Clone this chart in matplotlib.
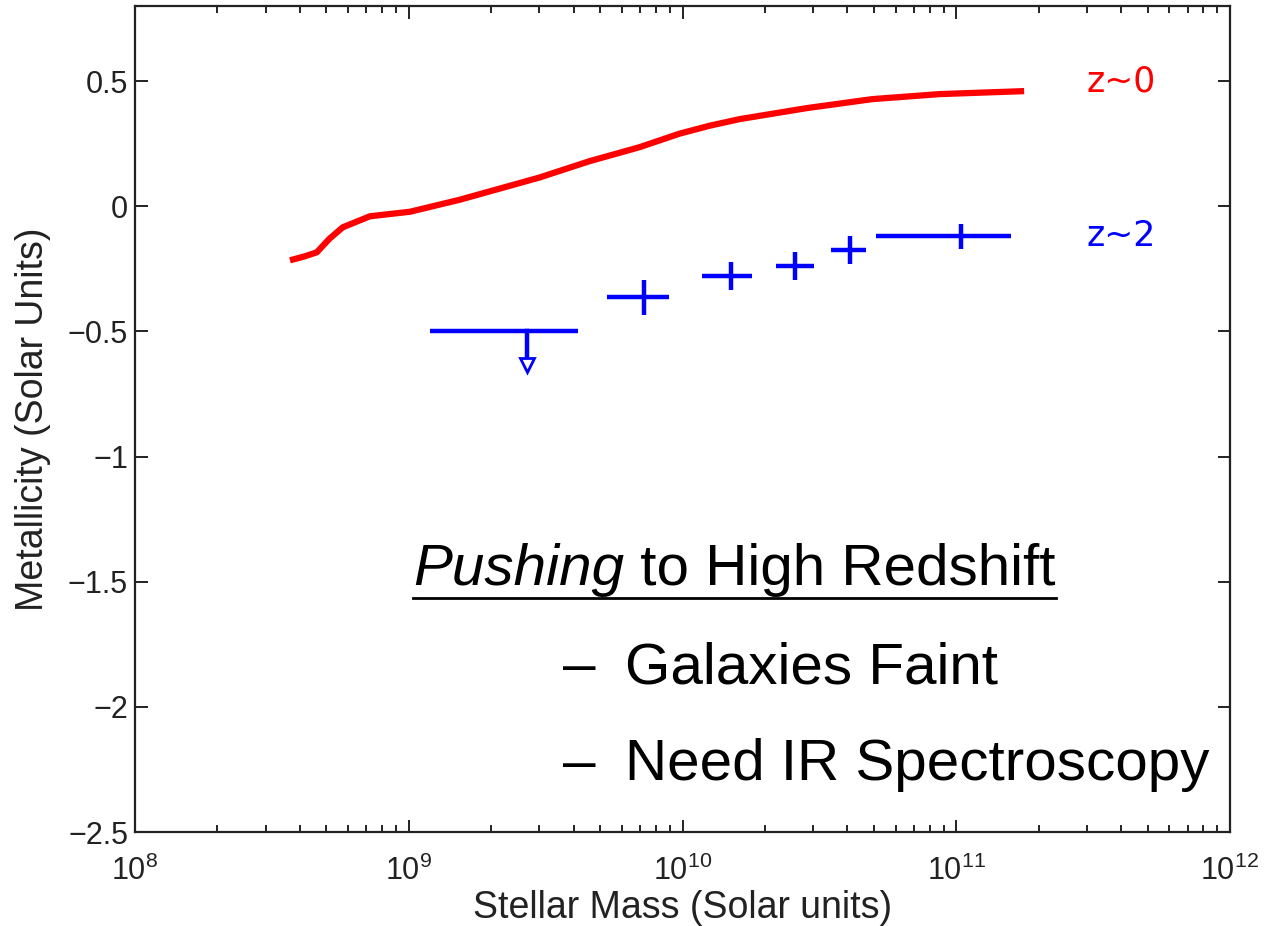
import matplotlib
matplotlib.use('Agg')
import matplotlib.pyplot as plt
import numpy as np
from matplotlib.lines import Line2D

plt.rcParams['font.family'] = ['Liberation Sans', 'DejaVu Sans']
plt.rcParams['axes.unicode_minus'] = True

# z~0 relation (log stellar mass, metallicity)
z0_logm = [8.566, 8.62, 8.664, 8.71, 8.759, 8.858, 9.004, 9.186, 9.478, 9.66,
           9.843, 9.989, 10.1, 10.208, 10.453, 10.693, 10.938, 11.248]
z0_met = [-0.216, -0.2, -0.184, -0.13, -0.084, -0.04, -0.022, 0.026, 0.115, 0.18,
          0.236, 0.29, 0.322, 0.348, 0.392, 0.428, 0.448, 0.46]

# z~2 binned points
z2_logm = [9.858, 10.179, 10.412, 10.613, 11.018]
z2_met = [-0.364, -0.28, -0.24, -0.176, -0.12]
z2_logm_lo = [9.726, 10.073, 10.343, 10.544, 10.708]
z2_logm_hi = [9.949, 10.255, 10.482, 10.672, 11.2]
z2_met_err = [0.07, 0.056, 0.056, 0.056, 0.05]

# upper limit bin
lim_logm = 9.431
lim_met = -0.5
lim_logm_lo = 9.077
lim_logm_hi = 9.617
lim_arrow_end = -0.645

yticks = [0.5, 0, -0.5, -1, -1.5, -2, -2.5]
ytick_labels = ['0.5', '0', '\u22120.5', '\u22121', '\u22121.5', '\u22122', '\u22122.5']

fig = plt.figure(figsize=(12.68, 9.26), dpi=100)
ax = fig.add_axes([0.1065, 0.1015, 0.8635, 0.892])

ax.plot(10**np.array(z0_logm), z0_met, color='red', lw=4.5,
        solid_capstyle='butt', solid_joinstyle='round')

m = 10**np.array(z2_logm)
xerr = [m - 10**np.array(z2_logm_lo), 10**np.array(z2_logm_hi) - m]
ax.errorbar(m, z2_met, xerr=xerr, yerr=z2_met_err, fmt='none',
            ecolor='blue', elinewidth=3.2, capsize=0)

lm = 10**lim_logm
ax.errorbar([lm], [lim_met], xerr=[[lm - 10**lim_logm_lo], [10**lim_logm_hi - lm]],
            fmt='none', ecolor='blue', elinewidth=3.2, capsize=0)
ax.plot([lm, lm], [lim_met, lim_arrow_end + 0.02], color='blue', lw=3.2)
ax.plot([lm], [lim_arrow_end + 0.01], marker='v', ms=10, mfc='white',
        mec='blue', mew=2, ls='none')

ax.text(3.0e11, 0.5, 'z~0', color='red', fontsize=25, va='center',
        family='DejaVu Sans')
ax.text(3.0e11, -0.12, 'z~2', color='blue', fontsize=25, va='center',
        family='DejaVu Sans')

ax.set_xscale('log')
ax.set_xlim(1e8, 1e12)
ax.set_ylim(-2.5, 0.8)
ax.set_yticks(yticks)
ax.set_yticklabels(ytick_labels)
ax.tick_params(which='both', direction='in', top=True, right=True,
               labelsize=22, width=1.4, colors='#222222', labelcolor='#222222')
ax.tick_params(which='major', length=9)
ax.tick_params(which='minor', length=5)
ax.tick_params(axis='x', which='major', pad=17)
ax.tick_params(axis='y', which='major', pad=5)
for s in ax.spines.values():
    s.set_linewidth(1.6)
    s.set_color('#222222')

ax.set_xlabel('Stellar Mass (Solar units)', fontsize=27, color='#222222', labelpad=2)
ax.set_ylabel('Metallicity (Solar Units)', fontsize=27, color='#222222', labelpad=12)

# big annotation text
fig.canvas.draw()
r = fig.canvas.get_renderer()
t1 = fig.text(413 / 1268, 1 - 585 / 926, 'Pushing', fontsize=42, style='italic',
              color='black', va='baseline')
bb1 = t1.get_window_extent(r)
t2 = fig.text(bb1.x1 / 1268, 1 - 585 / 926, ' to High Redshift', fontsize=42,
              color='black', va='baseline')
bb2 = t2.get_window_extent(r)
uy = (926 - 598) / 926
fig.add_artist(Line2D([bb1.x0 / 1268, bb2.x1 / 1268], [uy, uy],
                      transform=fig.transFigure, color='black', lw=2))

fig.text(563 / 1268, 1 - 668 / 926, '\u2013', fontsize=42, va='center')
fig.text(625 / 1268, 1 - 668 / 926, 'Galaxies Faint', fontsize=42, va='center')
fig.text(563 / 1268, 1 - 765 / 926, '\u2013', fontsize=42, va='center')
fig.text(625 / 1268, 1 - 765 / 926, 'Need IR Spectroscopy', fontsize=42, va='center')

fig.savefig('out.png', dpi=100)
